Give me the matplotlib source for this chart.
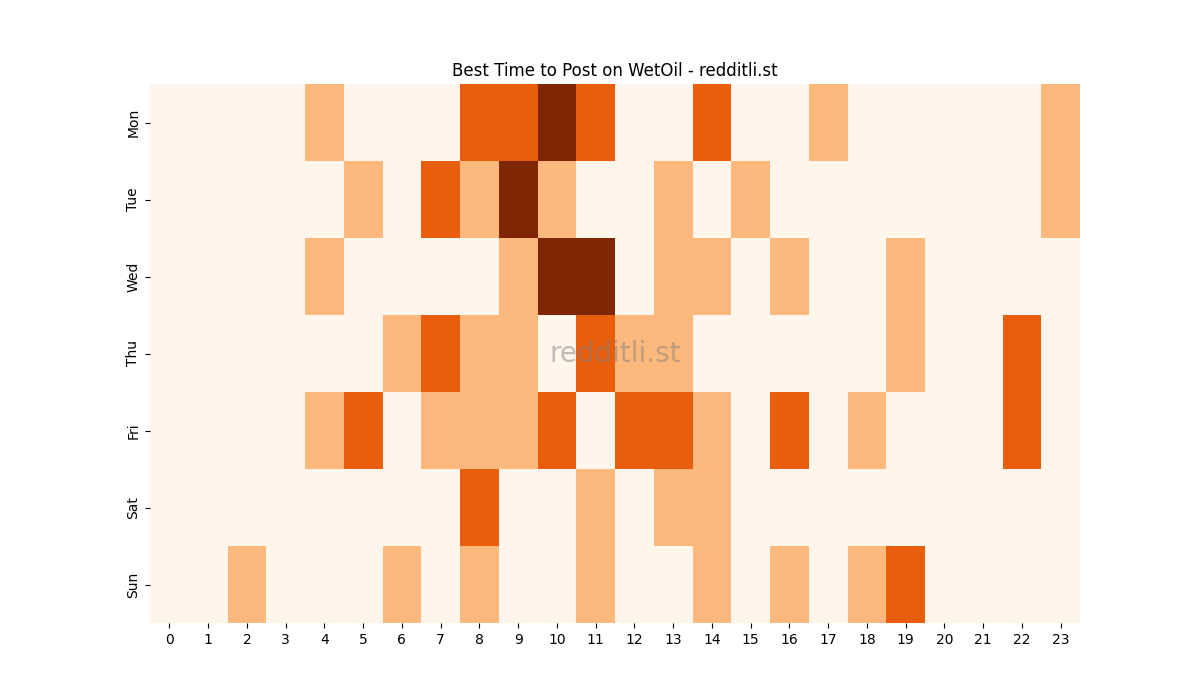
import matplotlib
matplotlib.use("Agg")
import matplotlib.pyplot as plt
import seaborn as sns
import numpy as np

days = ["Mon", "Tue", "Wed", "Thu", "Fri", "Sat", "Sun"]
hours = list(range(24))

mon = [0,0,0,0,1,0,0,0,2,2,3,2,0,0,2,0,0,1,0,0,0,0,0,1]
tue = [0,0,0,0,0,1,0,2,1,3,1,0,0,1,0,1,0,0,0,0,0,0,0,1]
wed = [0,0,0,0,1,0,0,0,0,1,3,3,0,1,1,0,1,0,0,1,0,0,0,0]
thu = [0,0,0,0,0,0,1,2,1,1,0,2,1,1,0,0,0,0,0,1,0,0,2,0]
fri = [0,0,0,0,1,2,0,1,1,1,2,0,2,2,1,0,2,0,1,0,0,0,2,0]
sat = [0,0,0,0,0,0,0,0,2,0,0,1,0,1,1,0,0,0,0,0,0,0,0,0]
sun = [0,0,1,0,0,0,1,0,1,0,0,1,0,0,1,0,1,0,1,2,0,0,0,0]

data = np.array([mon, tue, wed, thu, fri, sat, sun])

fig, ax = plt.subplots(figsize=(12, 7), dpi=100)
sns.heatmap(data, cmap="Oranges", cbar=False, ax=ax,
            xticklabels=hours, yticklabels=days, vmin=0, vmax=3)
ax.set_title("Best Time to Post on WetOil - redditli.st")
ax.text(0.5, 0.5, "redditli.st", transform=ax.transAxes, ha="center", va="center",
        fontsize=20, color="grey", alpha=0.5)
plt.setp(ax.get_xticklabels(), rotation=0)
plt.setp(ax.get_yticklabels(), rotation=90, va="center")
fig.savefig("out.png")
